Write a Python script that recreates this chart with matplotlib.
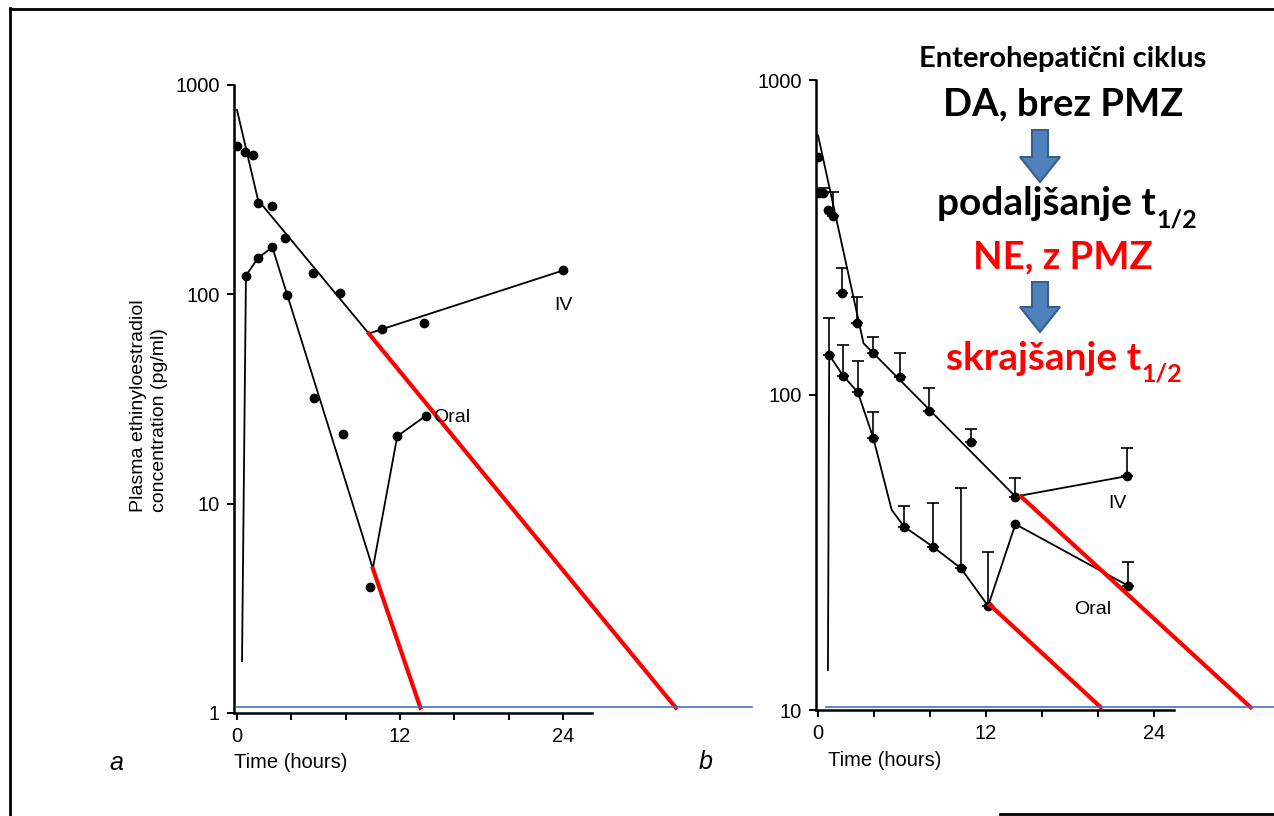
import numpy as np
import matplotlib
matplotlib.use('Agg')
import matplotlib.pyplot as plt
from matplotlib.patches import Polygon
from matplotlib.lines import Line2D

plt.rcParams['font.family'] = ['Liberation Sans', 'DejaVu Sans']

# ---- panel a (single subject) ----
a_iv_t = [0.0, 0.6, 1.2, 1.55, 2.55, 3.5, 5.6, 7.6, 10.7, 13.8, 24.0]
a_iv_c = [510, 478, 462, 272, 263, 186, 127, 101, 68, 73, 130]
a_oral_t = [0.66, 1.55, 2.6, 3.7, 5.7, 7.8, 9.8, 11.8, 13.9]
a_oral_c = [123, 149, 168, 99, 31.8, 21.6, 4.0, 21, 26.3]

a_iv_fit_t = [0.0, 1.55, 9.7, 24.0]
a_iv_fit_c = [760, 282, 65, 130]
a_oral_fit_t = [0.37, 0.66, 1.55, 2.6, 10.0, 11.8, 13.9]
a_oral_fit_c = [1.77, 123, 149, 168, 4.9, 21, 26.3]

a_red_iv_t = [9.7, 32.3]
a_red_iv_c = [65, 1.06]
a_red_oral_t = [10.0, 13.5]
a_red_oral_c = [4.9, 1.06]
a_base_t = [0.0, 37.9]
a_base_c = [1.07, 1.07]

# ---- panel b (mean + SD) ----
b_iv_t = [0.0, 0.05, 0.35, 0.7, 1.05, 1.7, 2.8, 3.95, 5.85, 7.95, 10.9, 14.1, 22.1]
b_iv_c = [570, 437, 437, 387, 370, 211, 169, 136, 114, 89, 71, 47.6, 55.3]
b_iv_up = [np.nan, np.nan, 455, np.nan, 440, 253, 205, 153, 136, 105, 78, 54.5, 68]
b_oral_t = [0.8, 1.8, 2.85, 3.95, 6.15, 8.2, 10.2, 12.15, 14.1, 22.15]
b_oral_c = [134, 115, 102, 73, 38.2, 33, 28.2, 21.4, 38.9, 24.8]
b_oral_up = [175, 144, 128, 88, 44.4, 45.4, 50.7, 31.8, np.nan, 29.5]

b_iv_fit_t = [0.0, 3.25, 14.1, 22.1]
b_iv_fit_c = [668, 146, 47.6, 55.3]
b_oral_fit_t = [0.71, 0.8, 1.8, 2.85, 3.95, 5.26, 6.15, 8.2, 10.2, 12.15, 14.1, 22.15]
b_oral_fit_c = [13.4, 134, 115, 102, 73, 43.2, 38.2, 33, 28.2, 21.4, 38.9, 24.8]

b_red_iv_t = [14.5, 30.9]
b_red_iv_c = [47.6, 10.2]
b_red_oral_t = [12.3, 20.2]
b_red_oral_c = [21.5, 10.2]
b_base_t = [0.57, 33.0]
b_base_c = [10.2, 10.2]

W, H = 1274, 816
fig = plt.figure(figsize=(W / 100, H / 100), dpi=100)


def px(x, y):
    return x / W, 1 - y / H


def style_axis(ax, yticks, ylabels, xend):
    ax.set_yscale('log')
    ax.spines['top'].set_visible(False)
    ax.spines['right'].set_visible(False)
    ax.spines['left'].set_linewidth(1.8)
    ax.spines['bottom'].set_linewidth(1.8)
    ax.spines['bottom'].set_bounds(ax.get_xlim()[0], xend)
    ax.set_yticks(yticks)
    ax.set_yticklabels(ylabels)
    ax.yaxis.set_minor_locator(matplotlib.ticker.NullLocator())
    ax.set_xticks([0, 4, 8, 12, 16, 20, 24])
    ax.set_xticklabels(['0', '', '', '12', '', '', '24'])
    ax.tick_params(direction='out', length=5, width=1.4, labelsize=14.5, pad=5)
    ax.patch.set_alpha(0)


def curves(ax, t, c, **kw):
    ax.plot(t, c, color='black', lw=1.3, **kw)


# panel a
ax_a = fig.add_axes([234 / W, 1 - 713 / H, (760 - 234) / W, (713 - 85) / H])
ax_a.set_xlim(-0.22, 38.5)
ax_a.set_ylim(1, 1000)
style_axis(ax_a, [1, 10, 100, 1000], ['1', '10', '100', '1000'], 26.1)
curves(ax_a, a_iv_fit_t, a_iv_fit_c)
curves(ax_a, a_oral_fit_t, a_oral_fit_c)
ax_a.plot(a_iv_t, a_iv_c, 'o', color='black', ms=6)
ax_a.plot(a_oral_t, a_oral_c, 'o', color='black', ms=6)
ax_a.plot(a_red_iv_t, a_red_iv_c, color='#ff0000', lw=3)
ax_a.plot(a_red_oral_t, a_red_oral_c, color='#ff0000', lw=3)
ax_a.plot(a_base_t, a_base_c, color='#4472c4', lw=1.2, clip_on=False)
ax_a.text(24.0, 88.5, 'IV', fontsize=14, ha='center', va='center')
ax_a.text(15.8, 25.8, 'Oral', fontsize=14, ha='center', va='center')

# panel b
ax_b = fig.add_axes([816 / W, 1 - 710 / H, (1274 - 816) / W, (710 - 80) / H])
ax_b.set_xlim(-0.143, 32.57)
ax_b.set_ylim(10, 1000)
style_axis(ax_b, [10, 100, 1000], ['10', '100', '1000'], 25.4)
curves(ax_b, b_iv_fit_t, b_iv_fit_c)
curves(ax_b, b_oral_fit_t, b_oral_fit_c)
for tt, cc, up in [(b_iv_t, b_iv_c, b_iv_up), (b_oral_t, b_oral_c, b_oral_up)]:
    tt = np.array(tt)
    cc = np.array(cc)
    up = np.array(up)
    m = ~np.isnan(up)
    ax_b.errorbar(tt[m], cc[m], yerr=[np.zeros(m.sum()), up[m] - cc[m]],
                  fmt='none', ecolor='black', elinewidth=1.2, capsize=4, capthick=1.2)
    ax_b.plot(tt, cc, 'o', color='black', ms=6)
ax_b.plot(b_red_iv_t, b_red_iv_c, color='#ff0000', lw=3)
ax_b.plot(b_red_oral_t, b_red_oral_c, color='#ff0000', lw=3)
ax_b.plot(b_base_t, b_base_c, color='#4472c4', lw=1.2, clip_on=False)
ax_b.text(21.4, 45.4, 'IV', fontsize=14, ha='center', va='center')
ax_b.text(19.6, 20.9, 'Oral', fontsize=14, ha='center', va='center')

# axis titles and panel letters
fig.text(*px(149, 512), 'Plasma ethinyloestradiol\nconcentration (pg/ml)', rotation=90,
         ha='center', va='bottom', multialignment='left', fontsize=14, linespacing=1.3)
fig.text(*px(234, 762), 'Time (hours)', ha='left', va='center', fontsize=14.5)
fig.text(*px(828, 761), 'Time (hours)', ha='left', va='center', fontsize=14.5)
fig.text(*px(116, 763), 'a', ha='center', va='center', fontsize=18, style='italic')
fig.text(*px(706, 762), 'b', ha='center', va='center', fontsize=18, style='italic')

# scan frame
fig.add_artist(Line2D([10 / W, 10 / W], [0, 1 - 8 / H], color='black', lw=2))
fig.add_artist(Line2D([10 / W, 1], [1 - 9 / H, 1 - 9 / H], color='black', lw=2))
fig.add_artist(Line2D([1000 / W, 1], [1 - 814 / H, 1 - 814 / H], color='black', lw=2))

# annotation on the right
ann = dict(family=['Lato', 'DejaVu Sans'], weight='bold', va='baseline')
fig.text(*px(1063, 67), 'Enterohepatični ciklus', ha='center', fontsize=21, color='black', **ann)
fig.text(*px(1063, 115), 'DA, brez PMZ', ha='center', fontsize=27.5, color='black', **ann)
fig.text(*px(1156, 215), 'podaljšanje t', ha='right', fontsize=28, color='black', **ann)
fig.text(*px(1156, 228), '1/2', ha='left', fontsize=18, color='black', **ann)
fig.text(*px(1063, 268), 'NE, z PMZ', ha='center', fontsize=27.5, color='#ff0000', **ann)
fig.text(*px(1141, 370), 'skrajšanje t', ha='right', fontsize=28, color='#ff0000', **ann)
fig.text(*px(1141, 382), '1/2', ha='left', fontsize=18, color='#ff0000', **ann)


def down_arrow(top, mid, bottom):
    pts = [(1032, top), (1048, top), (1048, mid), (1060, mid), (1040, bottom),
           (1020, mid), (1032, mid)]
    fig.add_artist(Polygon([px(x, y) for x, y in pts], closed=True,
                           facecolor='#4f81bd', edgecolor='#385d8a', lw=1.5,
                           transform=fig.transFigure))


down_arrow(130, 157, 182)
down_arrow(282, 307, 332)

fig.savefig('out.png', dpi=100)
